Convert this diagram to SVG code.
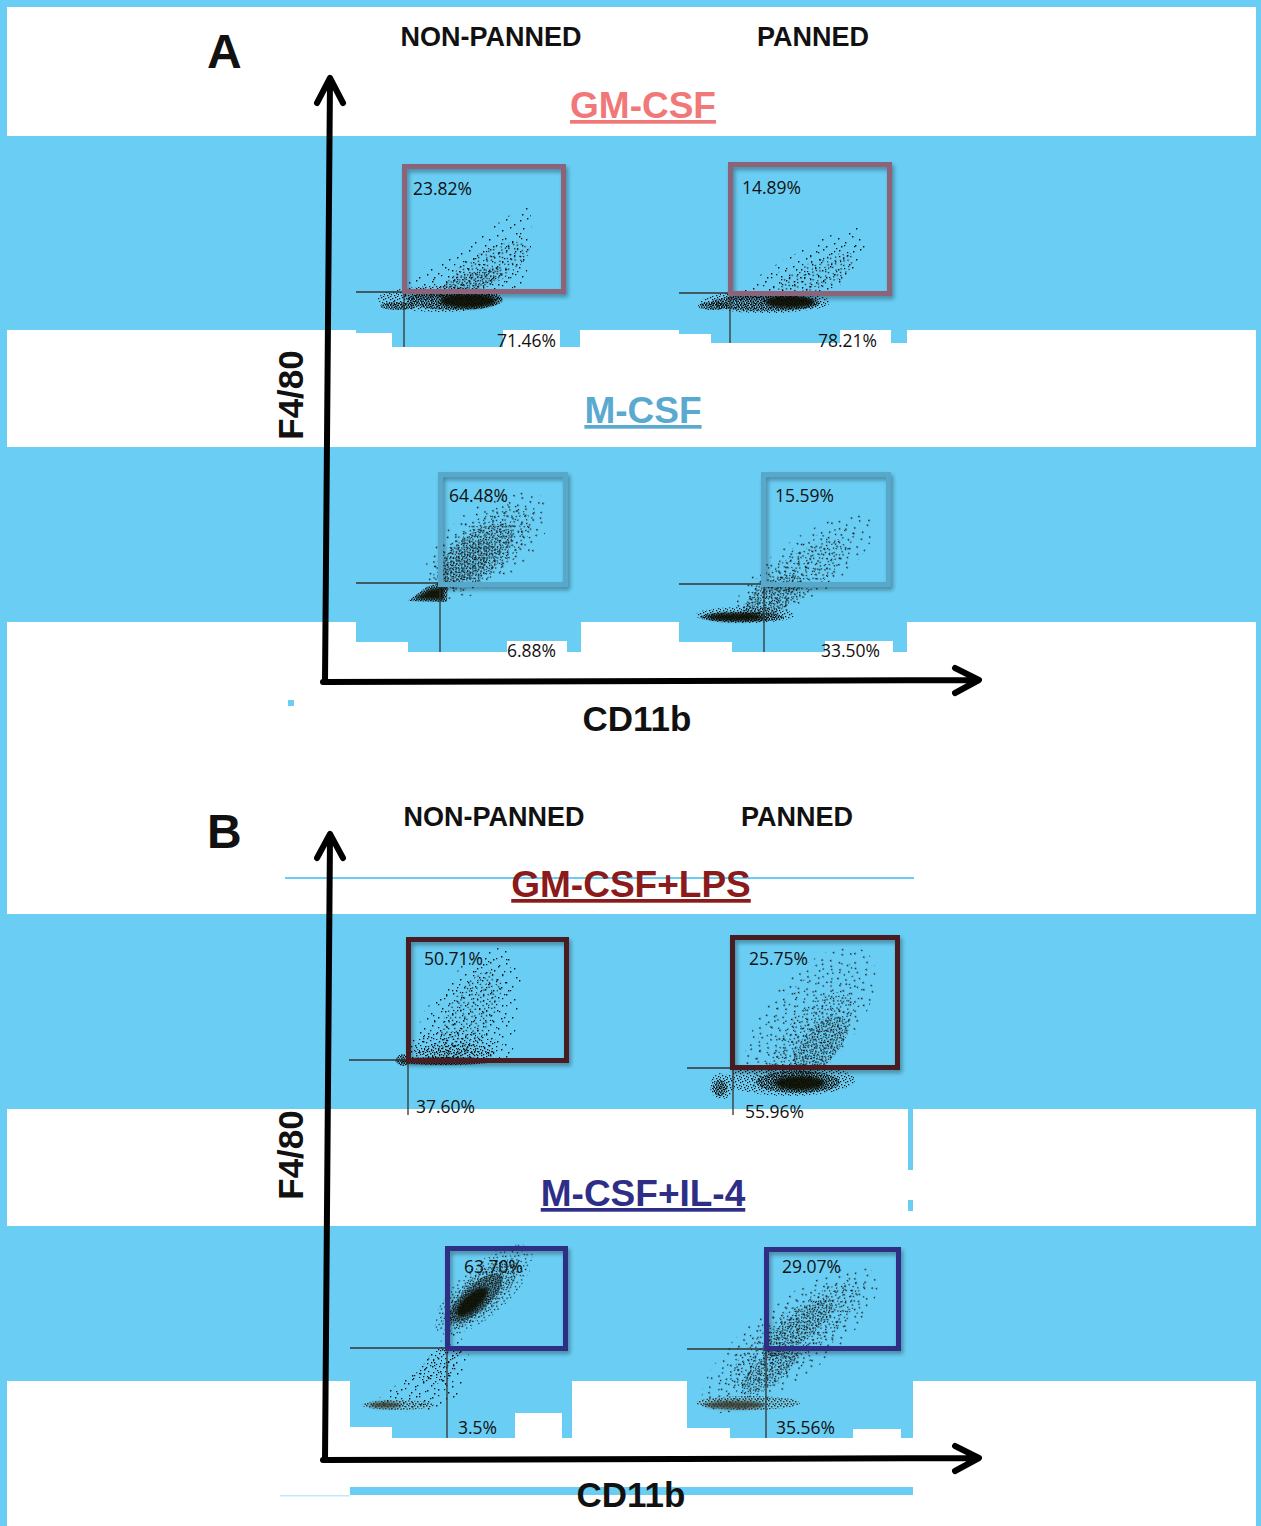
<svg xmlns="http://www.w3.org/2000/svg" width="1261" height="1526" viewBox="0 0 1261 1526">
<style>
.band{fill:#6ACEF4}
.wh{fill:#fff}
.hdr{font-family:"Liberation Sans",Arial,sans-serif;font-weight:bold;font-size:27px;fill:#111;text-anchor:middle}
.big{font-family:"Liberation Sans",Arial,sans-serif;font-weight:bold;font-size:48px;fill:#111}
.ax{font-family:"Liberation Sans",Arial,sans-serif;font-weight:bold;font-size:35px;fill:#111;text-anchor:middle}
.ttl{font-family:"Liberation Sans",Arial,sans-serif;font-weight:bold;font-size:37px;text-anchor:middle;text-decoration:underline}
.pct{font-family:"Open Sans","Noto Sans",sans-serif;font-size:17.5px;fill:#111}
.axis{fill:none;stroke:#000;stroke-width:6;stroke-linecap:round;stroke-linejoin:round}
.q{stroke:#333;stroke-width:1.3;fill:none}
.gate{fill:none;stroke-width:5;filter:url(#sh)}
.core{fill:#0b0a06;opacity:0.9}
</style>
<defs>
<filter id="sh" x="-10%" y="-10%" width="130%" height="130%"><feDropShadow dx="2" dy="3" stdDeviation="2" flood-color="#000" flood-opacity="0.35"/></filter>
<filter id="soft" x="-20%" y="-50%" width="140%" height="200%"><feGaussianBlur stdDeviation="1.8"/></filter>
<pattern id="sp" width="37" height="31" patternUnits="userSpaceOnUse"><path fill="#111" d="M2 3h1.4v1.4h-1.4zM9 1h1.4v1.4h-1.4zM17 5h1.4v1.4h-1.4zM25 2h1.4v1.4h-1.4zM33 7h1.4v1.4h-1.4zM5 11h1.4v1.4h-1.4zM13 9h1.4v1.4h-1.4zM21 13h1.4v1.4h-1.4zM29 10h1.4v1.4h-1.4zM35 16h1.4v1.4h-1.4zM1 19h1.4v1.4h-1.4zM8 22h1.4v1.4h-1.4zM16 18h1.4v1.4h-1.4zM24 21h1.4v1.4h-1.4zM31 25h1.4v1.4h-1.4zM4 28h1.4v1.4h-1.4zM12 29h1.4v1.4h-1.4zM20 26h1.4v1.4h-1.4zM27 29h1.4v1.4h-1.4z"/></pattern>
<pattern id="sp2" width="29" height="23" patternUnits="userSpaceOnUse" patternTransform="translate(5 7)"><path fill="#111" d="M4 2h1.3v1.3h-1.3zM14 4h1.3v1.3h-1.3zM23 1h1.3v1.3h-1.3zM8 9h1.3v1.3h-1.3zM19 11h1.3v1.3h-1.3zM27 8h1.3v1.3h-1.3zM1 15h1.3v1.3h-1.3zM12 17h1.3v1.3h-1.3zM22 19h1.3v1.3h-1.3zM6 21h1.3v1.3h-1.3zM17 14h1.3v1.3h-1.3z"/></pattern>
<pattern id="md" width="17" height="13" patternUnits="userSpaceOnUse"><path fill="#111" d="M1 2h1.3v1.3h-1.3zM5 0h1.3v1.3h-1.3zM10 3h1.3v1.3h-1.3zM14 1h1.3v1.3h-1.3zM3 6h1.3v1.3h-1.3zM8 7h1.3v1.3h-1.3zM12 5h1.3v1.3h-1.3zM16 8h1.3v1.3h-1.3zM2 11h1.3v1.3h-1.3zM6 10h1.3v1.3h-1.3zM11 12h1.3v1.3h-1.3zM15 11h1.3v1.3h-1.3z"/></pattern>
<pattern id="dn" width="7" height="9" patternUnits="userSpaceOnUse"><path fill="#111" d="M0 1h1.3v1.3h-1.3zM3 0h1.3v1.3h-1.3zM5 2h1.3v1.3h-1.3zM1 4h1.3v1.3h-1.3zM4 5h1.3v1.3h-1.3zM6 6h1.3v1.3h-1.3zM2 7h1.3v1.3h-1.3zM5 8h1.3v1.3h-1.3z"/></pattern>
<pattern id="vd" width="5" height="4" patternUnits="userSpaceOnUse"><path fill="#0b0a06" d="M0 0h1.6v1.6h-1.6zM2.5 0.5h1.6v1.6h-1.6zM1 2.2h1.6v1.6h-1.6zM3.6 2.6h1.6v1.6h-1.6z"/></pattern>
<pattern id="dnb" width="6" height="5" patternUnits="userSpaceOnUse"><path fill="#3a3322" d="M0 0h1.5v1.5h-1.5zM3 1h1.5v1.5h-1.5zM1 3h1.5v1.5h-1.5zM4.5 3.5h1.5v1.5h-1.5z"/></pattern>
</defs>

<!-- frame & bands -->
<g id="background">
<rect x="0" y="0" width="1261" height="1526" class="band"/>
<rect x="7" y="7" width="1249" height="1519" class="wh"/>
<rect x="0" y="136" width="1261" height="194" class="band"/>
<rect x="0" y="447" width="1261" height="175" class="band"/>
<rect x="0" y="914" width="1261" height="195" class="band"/>
<rect x="0" y="1226" width="1261" height="155" class="band"/>
<rect x="0" y="0" width="7" height="1526" class="band"/>
<rect x="1256" y="0" width="5" height="1526" class="band"/>
<rect x="356" y="330" width="36" height="3" class="band"/>
<rect x="392" y="330" width="188" height="17" class="band"/>
<rect x="503" y="330" width="57" height="20" class="wh"/>
<rect x="679" y="330" width="32" height="4" class="band"/>
<rect x="711" y="330" width="196" height="13" class="band"/>
<rect x="840" y="330" width="51" height="15" class="wh"/>
<rect x="356" y="622" width="52" height="20" class="band"/>
<rect x="408" y="622" width="173" height="30" class="band"/>
<rect x="507" y="641" width="60" height="13" class="wh"/>
<rect x="679" y="622" width="53" height="20" class="band"/>
<rect x="732" y="622" width="175" height="30" class="band"/>
<rect x="825" y="641" width="68" height="13" class="wh"/>
<rect x="349" y="1109" width="32" height="2" class="wh"/>
<rect x="518" y="1109" width="45" height="2" class="wh"/>
<rect x="908" y="1109" width="5" height="61" class="band"/>
<rect x="908" y="1200" width="5" height="11" class="band"/>
<rect x="350" y="1381" width="42" height="46" class="band"/>
<rect x="392" y="1381" width="180" height="57" class="band"/>
<rect x="515" y="1413" width="47" height="27" class="wh"/>
<rect x="687" y="1381" width="43" height="47" class="band"/>
<rect x="730" y="1381" width="183" height="57" class="band"/>
<rect x="853" y="1429" width="48" height="11" class="wh"/>
<rect x="288" y="700" width="6" height="6" class="band"/>
<rect x="285" y="877" width="629" height="2" class="band"/>
<rect x="350" y="1487" width="563" height="8" class="band"/>
<rect x="280" y="1495" width="70" height="1.5" fill="#bfe9fb"/>
</g>

<!-- Panel A plots -->
<g id="plotA1">
<polygon points="392,302 420,270 470,242 510,215 530,205 532,240 525,285 500,303" fill="url(#sp)"/>
<polygon points="400,300 440,270 490,245 525,225 525,270 505,300" fill="url(#sp2)"/>
<ellipse cx="488" cy="268" rx="46" ry="17" transform="rotate(-28 488 268)" fill="url(#md)"/>
<ellipse cx="470" cy="283" rx="35" ry="10" transform="rotate(-20 470 283)" fill="url(#dn)"/>
<ellipse cx="440" cy="299" rx="62" ry="13" fill="url(#dn)"/>
<ellipse cx="455" cy="300" rx="48" ry="10" fill="url(#vd)"/>
<ellipse cx="468" cy="301" rx="28" ry="7" class="core" filter="url(#soft)"/>
<ellipse cx="398" cy="306" rx="18" ry="4" fill="url(#vd)"/>
<path class="q" d="M356 292H404V347"/>
<rect class="gate" x="404.5" y="166.5" width="159" height="125" stroke="#8C6478"/>
<text class="pct" x="413" y="195">23.82%</text>
<text class="pct" x="497" y="347">71.46%</text>
</g>
<g id="plotA2">
<polygon points="728,298 770,268 820,240 860,222 868,250 840,292 800,305" fill="url(#sp)"/>
<polygon points="740,296 790,265 840,240 858,245 840,285 800,300" fill="url(#sp2)"/>
<ellipse cx="815" cy="276" rx="45" ry="14" transform="rotate(-25 815 276)" fill="url(#md)"/>
<ellipse cx="765" cy="302" rx="65" ry="11" fill="url(#dn)"/>
<ellipse cx="765" cy="303" rx="55" ry="8" fill="url(#vd)"/>
<ellipse cx="790" cy="302" rx="25" ry="6" class="core" filter="url(#soft)"/>
<ellipse cx="713" cy="306" rx="15" ry="4" fill="url(#vd)"/>
<path class="q" d="M679 293H730V343"/>
<rect class="gate" x="730.5" y="164.5" width="159" height="129" stroke="#8C6478"/>
<text class="pct" x="742" y="194">14.89%</text>
<text class="pct" x="818" y="347">78.21%</text>
</g>
<g id="plotA3">
<ellipse cx="487" cy="545" rx="74" ry="38" transform="rotate(-38 487 545)" fill="url(#sp)"/>
<ellipse cx="484" cy="547" rx="64" ry="30" transform="rotate(-38 484 547)" fill="url(#sp2)"/>
<ellipse cx="482" cy="550" rx="58" ry="27" transform="rotate(-38 482 550)" fill="url(#md)"/>
<ellipse cx="475" cy="556" rx="45" ry="21" transform="rotate(-38 475 556)" fill="url(#dn)"/>
<ellipse cx="468" cy="562" rx="30" ry="14" transform="rotate(-38 468 562)" fill="url(#dn)" opacity="0.8"/>
<polygon points="408,601 428,586 448,582 447,602" fill="url(#vd)"/>
<polygon points="414,599 430,589 444,587 444,600" class="core" filter="url(#soft)"/>
<path class="q" d="M356 583H440V652"/>
<rect class="gate" x="440.5" y="474.5" width="125" height="110" stroke="#58A8CC"/>
<text class="pct" x="449" y="502">64.48%</text>
<text class="pct" x="507" y="657">6.88%</text>
</g>
<g id="plotA4">
<ellipse cx="805" cy="568" rx="82" ry="30" transform="rotate(-35 805 568)" fill="url(#sp)"/>
<ellipse cx="800" cy="572" rx="70" ry="24" transform="rotate(-35 800 572)" fill="url(#sp2)"/>
<ellipse cx="795" cy="578" rx="62" ry="20" transform="rotate(-35 795 578)" fill="url(#md)"/>
<ellipse cx="772" cy="598" rx="35" ry="15" transform="rotate(-35 772 598)" fill="url(#dn)"/>
<ellipse cx="745" cy="615" rx="50" ry="8" fill="url(#dn)"/>
<ellipse cx="742" cy="617" rx="42" ry="5" fill="url(#vd)"/>
<ellipse cx="735" cy="617" rx="28" ry="4" class="core" filter="url(#soft)"/>
<path class="q" d="M679 584H764V652"/>
<rect class="gate" x="763.5" y="474.5" width="125" height="110" stroke="#58A8CC"/>
<text class="pct" x="775" y="502">15.59%</text>
<text class="pct" x="821" y="657">33.50%</text>
</g>

<!-- Panel B plots -->
<g id="plotB1">
<polygon points="403,1062 425,1010 465,962 505,945 522,975 512,1060" fill="url(#sp)"/>
<polygon points="410,1058 440,1000 480,960 510,955 512,1000 500,1058" fill="url(#sp2)"/>
<ellipse cx="470" cy="1015" rx="50" ry="22" transform="rotate(-60 470 1015)" fill="url(#md)"/>
<ellipse cx="455" cy="1045" rx="45" ry="14" fill="url(#md)"/>
<ellipse cx="455" cy="1052" rx="40" ry="8" fill="url(#dn)"/>
<ellipse cx="445" cy="1061" rx="50" ry="4" fill="url(#vd)"/>
<ellipse cx="440" cy="1061" rx="40" ry="2.5" class="core" filter="url(#soft)"/>
<ellipse cx="403" cy="1060" rx="7" ry="6" fill="url(#vd)"/>
<path class="q" d="M349 1060H408V1115"/>
<rect class="gate" x="408.5" y="939.5" width="158" height="121" stroke="#4A1A20"/>
<text class="pct" x="424" y="965">50.71%</text>
<text class="pct" x="416" y="1113">37.60%</text>
</g>
<g id="plotB2">
<ellipse cx="810" cy="1020" rx="88" ry="44" transform="rotate(-50 810 1020)" fill="url(#sp)"/>
<ellipse cx="808" cy="1025" rx="75" ry="36" transform="rotate(-50 808 1025)" fill="url(#sp2)"/>
<ellipse cx="812" cy="1040" rx="58" ry="27" transform="rotate(-50 812 1040)" fill="url(#md)"/>
<ellipse cx="820" cy="1045" rx="35" ry="18" transform="rotate(-50 820 1045)" fill="url(#dn)"/>
<ellipse cx="790" cy="1080" rx="65" ry="16" fill="url(#dn)"/>
<ellipse cx="798" cy="1082" rx="42" ry="11" fill="url(#vd)"/>
<ellipse cx="800" cy="1083" rx="25" ry="7" class="core" filter="url(#soft)"/>
<ellipse cx="722" cy="1086" rx="12" ry="13" fill="url(#dn)"/>
<ellipse cx="720" cy="1088" rx="7" ry="8" fill="url(#vd)"/>
<path class="q" d="M687 1068H733V1115"/>
<rect class="gate" x="732.5" y="937.5" width="165" height="130" stroke="#4A1A20"/>
<text class="pct" x="749" y="965">25.75%</text>
<text class="pct" x="745" y="1118">55.96%</text>
<rect x="730" y="1118" width="120" height="6" class="wh"/>
</g>
<g id="plotB3">
<polygon points="362,1410 390,1390 425,1360 450,1330 470,1345 462,1395 440,1412" fill="url(#sp)"/>
<polygon points="375,1405 410,1375 440,1345 462,1350 455,1390 430,1408" fill="url(#sp2)"/>
<polygon points="410,1380 440,1345 460,1350 450,1385" fill="url(#md)"/>
<ellipse cx="484" cy="1290" rx="62" ry="25" transform="rotate(-42 484 1290)" fill="url(#md)"/>
<ellipse cx="481" cy="1294" rx="48" ry="18" transform="rotate(-42 481 1294)" fill="url(#dn)"/>
<ellipse cx="476" cy="1298" rx="34" ry="13" transform="rotate(-42 476 1298)" fill="url(#vd)"/>
<ellipse cx="472" cy="1302" rx="20" ry="8" transform="rotate(-42 472 1302)" class="core" filter="url(#soft)"/>
<ellipse cx="398" cy="1405" rx="36" ry="5" fill="url(#dnb)"/>
<ellipse cx="385" cy="1405" rx="16" ry="3" fill="#3a3322" opacity="0.8" filter="url(#soft)"/>
<path class="q" d="M350 1348H447V1438"/>
<rect class="gate" x="447.5" y="1248.5" width="118" height="100" stroke="#2E2E84"/>
<text class="pct" x="464" y="1273">63.70%</text>
<text class="pct" x="458" y="1434">3.5%</text>
</g>
<g id="plotB4">
<ellipse cx="790" cy="1340" rx="108" ry="38" transform="rotate(-38 790 1340)" fill="url(#sp)"/>
<ellipse cx="792" cy="1338" rx="95" ry="30" transform="rotate(-38 792 1338)" fill="url(#sp2)"/>
<ellipse cx="795" cy="1335" rx="80" ry="23" transform="rotate(-38 795 1335)" fill="url(#md)"/>
<ellipse cx="798" cy="1328" rx="45" ry="14" transform="rotate(-38 798 1328)" fill="url(#dn)"/>
<ellipse cx="770" cy="1370" rx="35" ry="14" transform="rotate(-38 770 1370)" fill="url(#dn)"/>
<ellipse cx="748" cy="1403" rx="52" ry="7" fill="url(#dnb)"/>
<ellipse cx="735" cy="1405" rx="30" ry="4" fill="#3a3322" opacity="0.8" filter="url(#soft)"/>
<path class="q" d="M687 1349H766V1438"/>
<rect class="gate" x="766.5" y="1249.5" width="132" height="99" stroke="#2E2E84"/>
<text class="pct" x="782" y="1273">29.07%</text>
<text class="pct" x="776" y="1434">35.56%</text>
</g>

<!-- connectors: axes -->
<g id="axes">
<path class="axis" d="M325 682L330 80M317 103L330 78L343 103"/>
<path class="axis" d="M323 682L978 680M955 668L979 680L955 693"/>
<path class="axis" d="M325 1460L330 836M317 858L330 834L343 858"/>
<path class="axis" d="M323 1460L978 1458M955 1446L979 1458L955 1471"/>
</g>

<!-- labels -->
<g id="labels">
<text class="big" x="207" y="68">A</text>
<text class="big" x="207" y="848">B</text>
<text class="hdr" x="491" y="46">NON-PANNED</text>
<text class="hdr" x="813" y="46">PANNED</text>
<text class="hdr" x="494" y="826">NON-PANNED</text>
<text class="hdr" x="797" y="826">PANNED</text>
<text class="ttl" x="643" y="118" fill="#F07878">GM-CSF</text>
<text class="ttl" x="643" y="423" fill="#5AAAD0">M-CSF</text>
<text class="ttl" x="631" y="897" fill="#8B1A1A">GM-CSF+LPS</text>
<text class="ttl" x="643" y="1206" fill="#2E2E86">M-CSF+IL-4</text>
<text class="ax" transform="translate(303 395) rotate(-90)">F4/80</text>
<text class="ax" transform="translate(303 1155) rotate(-90)">F4/80</text>
<text class="ax" x="637" y="731">CD11b</text>
<text class="ax" x="631" y="1507">CD11b</text>
</g>
</svg>
